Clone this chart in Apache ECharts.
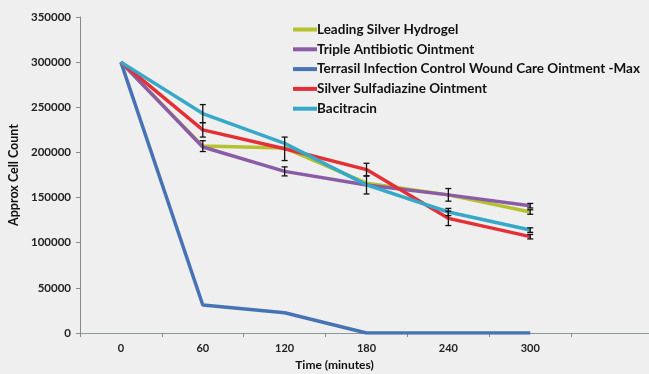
<!DOCTYPE html>
<html>
<head>
<meta charset="utf-8">
<script src="https://cdn.jsdelivr.net/npm/echarts@6/dist/echarts.min.js"></script>
<style>
  html, body { margin: 0; padding: 0; background: #efefef; }
  #chart { width: 649px; height: 374px; }
</style>
</head>
<body>
<div id="chart"></div>
<script>
const times = ['0', '60', '120', '180', '240', '300', '']

const seriesNames = [
  'Leading Silver Hydrogel',
  'Triple Antibiotic Ointment',
  'Terrasil Infection Control Wound Care Ointment -Max',
  'Silver Sulfadiazine Ointment',
  'Bacitracin',
]
const hydrogel = [300000, 207000, 205000, 166000, 153000, 134000]
const tripleAntibiotic = [300000, 206000, 179000, 164000, 153000, 141000]
const terrasil = [300000, 31000, 22500, 0, 0, 0]
const sulfadiazine = [300000, 225000, 204000, 181000, 127000, 106700]
const bacitracin = [300000, 243000, 210000, 164000, 134000, 114000]

// [category index, low, high]
const errorBars = [
  [1, 233000, 253000], [1, 217000, 233000], [1, 201000, 213000],
  [2, 191000, 217000], [2, 174000, 184000],
  [3, 174000, 188000], [3, 154000, 174000],
  [4, 146000, 160000], [4, 130000, 138000], [4, 119000, 135000],
  [5, 138500, 143500], [5, 131500, 136500], [5, 111500, 116500], [5, 104200, 109200],
]

const colors = ['#b3c22e', '#8a5ca6', '#4673b3', '#e42f36', '#36a9c8']
const lineData = [hydrogel, tripleAntibiotic, terrasil, sulfadiazine, bacitracin]

const chart = echarts.init(document.getElementById('chart'), null, { renderer: 'canvas' })

const lineSeries = seriesNames.map((name, i) => ({
  name, type: 'line',
  data: lineData[i],
  symbol: 'none',
  lineStyle: { color: colors[i], width: 3.5 },
  itemStyle: { color: colors[i] },
  z: 2,
}))

const option = {
  backgroundColor: '#efefef',
  animation: false,
  textStyle: { fontFamily: 'Lato' },
  legend: {
    orient: 'vertical',
    left: 288, top: 17,
    icon: 'rect',
    itemWidth: 24, itemHeight: 4,
    itemGap: 4.8,
    textStyle: { color: '#111', fontSize: 13.5, fontWeight: 'bold', lineHeight: 15, padding: [0, 0, 0, -5] },
    data: seriesNames,
  },
  grid: { left: 80, top: 17, width: 573, height: 316, outerBoundsMode: 'none', containLabel: false },
  xAxis: {
    type: 'category',
    data: times,
    boundaryGap: true,
    name: 'Time (minutes)',
    nameLocation: 'middle',
    nameGap: 26,
    nameTextStyle: { color: '#111', fontSize: 12, fontWeight: 'bold', padding: [0, 64, 0, 0] },
    axisLine: { lineStyle: { color: '#8a9a9a', width: 1 } },
    axisTick: { show: true, length: 4, lineStyle: { color: '#888' } },
    axisLabel: { color: '#222', fontSize: 11, fontWeight: 'bold', margin: 10 },
  },
  yAxis: {
    type: 'value',
    min: 0, max: 350000, interval: 50000,
    name: 'Approx Cell Count',
    nameLocation: 'middle',
    nameGap: 54,
    nameTextStyle: { color: '#111', fontSize: 12.5, fontWeight: 'bold' },
    axisLine: { show: true, lineStyle: { color: '#888', width: 1 } },
    axisTick: { show: true, length: 4, lineStyle: { color: '#888' } },
    splitLine: { show: false },
    axisLabel: { color: '#222', fontSize: 11.5, fontWeight: 'bold', margin: 9, formatter: v => String(v) },
  },
  series: [
    ...lineSeries,
    {
      name: 'err', type: 'custom',
      data: errorBars,
      z: 3,
      renderItem: (params, api) => {
        const top = api.coord([api.value(0), api.value(2)])
        const bot = api.coord([api.value(0), api.value(1)])
        const x = top[0], w = 3
        const style = { stroke: '#111', lineWidth: 1.3 }
        return {
          type: 'group',
          children: [
            { type: 'line', shape: { x1: x, y1: top[1], x2: x, y2: bot[1] }, style },
            { type: 'line', shape: { x1: x - w, y1: top[1], x2: x + w, y2: top[1] }, style },
            { type: 'line', shape: { x1: x - w, y1: bot[1], x2: x + w, y2: bot[1] }, style },
          ],
        }
      },
    },
  ],
}

chart.setOption(option)
</script>
</body>
</html>
